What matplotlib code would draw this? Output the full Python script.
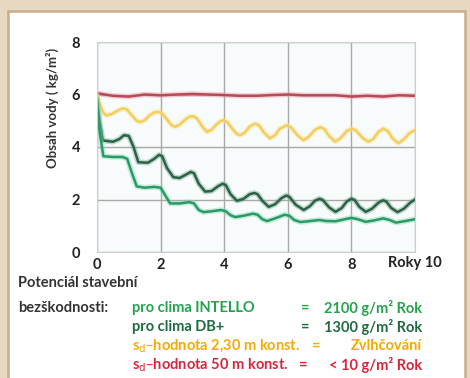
import matplotlib
matplotlib.use("Agg")
import matplotlib.pyplot as plt
from matplotlib.patches import Rectangle

plt.rcParams['font.family'] = ['Lato', 'DejaVu Sans']

# water content over years
red_t = [0, 0.5, 1, 1.5, 2, 2.5, 3, 3.5, 4, 4.5, 5, 5.5, 6, 6.5, 7, 7.5, 8, 8.5, 9, 9.5, 10]
red_y = [6.05, 5.95, 5.92, 6.0, 5.97, 6.0, 6.02, 6.0, 5.98, 5.95, 5.95, 5.98, 6.0, 5.97,
         5.97, 5.97, 5.92, 5.95, 5.92, 5.97, 5.95]

yel_t = [0.0, 0.1, 0.2, 0.3, 0.45, 0.6, 0.75, 0.84, 0.95, 1.1, 1.25, 1.36, 1.5, 1.65, 1.8,
         1.94, 2.05, 2.2, 2.35, 2.46, 2.6, 2.75, 2.9, 3.04, 3.15, 3.3, 3.45, 3.6, 3.75, 3.88,
         3.98, 4.1, 4.25, 4.4, 4.5, 4.65, 4.8, 4.97, 5.1, 5.25, 5.44, 5.6, 5.75, 5.97, 6.1,
         6.3, 6.49, 6.65, 6.85, 7.02, 7.15, 7.3, 7.49, 7.65, 7.85, 8.01, 8.15, 8.35, 8.53,
         8.7, 8.85, 9.0, 9.15, 9.3, 9.48, 9.65, 9.85, 10.0]
yel_y = [5.95, 5.6, 5.3, 5.2, 5.25, 5.35, 5.45, 5.47, 5.42, 5.2, 5.0, 4.95, 5.02, 5.2, 5.32,
         5.34, 5.27, 5.05, 4.82, 4.77, 4.85, 5.02, 5.15, 5.17, 5.08, 4.8, 4.58, 4.65, 4.85, 4.98,
         5.02, 4.95, 4.7, 4.5, 4.45, 4.55, 4.78, 4.89, 4.82, 4.55, 4.33, 4.45, 4.7, 4.83, 4.75,
         4.45, 4.26, 4.38, 4.65, 4.76, 4.68, 4.42, 4.2, 4.33, 4.6, 4.7, 4.62, 4.35, 4.2,
         4.32, 4.58, 4.7, 4.6, 4.32, 4.14, 4.3, 4.55, 4.63]

db_t = [0, 0.08, 0.18, 0.5, 0.7, 0.85, 1.0, 1.15, 1.3, 1.6, 1.8, 1.95, 2.05, 2.2, 2.4, 2.6,
        2.8, 2.95, 3.05, 3.2, 3.4, 3.6, 3.8, 3.95, 4.05, 4.2, 4.4, 4.6, 4.8, 4.95, 5.05, 5.2,
        5.4, 5.6, 5.8, 5.95, 6.05, 6.25, 6.5, 6.7, 6.85, 7.0, 7.1, 7.3, 7.5, 7.7, 7.85, 8.0,
        8.1, 8.25, 8.45, 8.65, 8.85, 9.0, 9.1, 9.25, 9.45, 9.65, 9.85, 10.0]
db_y = [5.8, 5.0, 4.25, 4.2, 4.3, 4.45, 4.42, 4.0, 3.42, 3.4, 3.55, 3.7, 3.65, 3.2, 2.85, 2.82,
        2.95, 3.05, 3.0, 2.6, 2.3, 2.32, 2.5, 2.6, 2.55, 2.2, 1.95, 2.02, 2.2, 2.25, 2.2, 1.95,
        1.72, 1.82, 2.05, 2.15, 2.1, 1.8, 1.6, 1.75, 1.95, 2.03, 1.98, 1.7, 1.53, 1.68, 1.92, 2.03,
        1.98, 1.72, 1.53, 1.65, 1.88, 1.97, 1.92, 1.68, 1.52, 1.65, 1.88, 2.0]

int_t = [0, 0.08, 0.2, 0.5, 0.8, 0.95, 1.1, 1.25, 1.5, 1.8, 2.0, 2.15, 2.3, 2.6, 2.9, 3.05,
         3.2, 3.35, 3.6, 3.9, 4.05, 4.2, 4.35, 4.6, 4.9, 5.05, 5.2, 5.35, 5.6, 5.9, 6.05, 6.2,
         6.4, 6.7, 7.0, 7.2, 7.5, 7.8, 8.0, 8.2, 8.45, 8.7, 9.0, 9.2, 9.4, 9.7, 10.0]
int_y = [5.8, 4.6, 3.65, 3.62, 3.62, 3.55, 3.0, 2.5, 2.45, 2.48, 2.45, 2.15, 1.85, 1.85, 1.9,
         1.85, 1.6, 1.52, 1.55, 1.6, 1.55, 1.4, 1.33, 1.38, 1.46, 1.42, 1.25, 1.18, 1.28, 1.42,
         1.38, 1.22, 1.14, 1.18, 1.22, 1.18, 1.17, 1.25, 1.3, 1.25, 1.15, 1.2, 1.28, 1.22, 1.12,
         1.18, 1.25]

yticks = [0, 2, 4, 6, 8]
xticks = [0, 2, 4, 6, 8, 10]

legend_names = ["pro clima INTELLO", "pro clima DB+",
                "s$_{\\rm d}$–hodnota 2,30 m konst.", "s$_{\\rm d}$–hodnota 50 m konst."]
legend_values = ["2100 g/m² Rok", "1300 g/m² Rok", "Zvlhčování", "< 10 g/m² Rok"]
legend_colors = ["#21a44c", "#1f6a3f", "#f5aa00", "#d8253c"]

fig = plt.figure(figsize=(4.7, 3.78), dpi=100)
fig.patch.set_facecolor("#e7d9c1")
# white panel with tan border, kept behind the axes
fig.patches.append(Rectangle((8 / 470, -0.05), 457 / 470, 1.05 - 11 / 378, transform=fig.transFigure,
                             facecolor="white", edgecolor="#c9ad86", linewidth=1.8, zorder=-10))

ax = fig.add_axes([97 / 470, 1 - 252 / 378, 318 / 470, 210 / 378])
ax.set_facecolor("#f8fbfb")


def soft_line(x, y, core, halo, lw):
    # blurred look of the scanned original: wide pale halo under a thin core
    ax.plot(x, y, color=halo, lw=lw + 2.2, alpha=0.45, solid_joinstyle="round")
    ax.plot(x, y, color=core, lw=lw, solid_joinstyle="round")


soft_line(red_t, red_y, "#b84a58", "#f0a0b0", 1.8)
soft_line(yel_t, yel_y, "#f2cf62", "#fbe6a0", 1.9)
soft_line(db_t, db_y, "#2f5f4a", "#6fb28c", 1.8)
soft_line(int_t, int_y, "#279a66", "#8ad8b4", 1.8)

ax.set_xlim(0, 10)
ax.set_ylim(0, 8)
ax.set_xticks(xticks)
ax.set_yticks(yticks)
ax.set_xticklabels(["0", "2", "4", "6", "8", ""])
ax.tick_params(length=0, labelsize=10.5, colors="#222222", pad=4)
ax.tick_params(axis="y", pad=12)
for lab in ax.get_xticklabels() + ax.get_yticklabels():
    lab.set_fontweight("bold")
ax.grid(color="#a8a8a8", lw=1)
ax.set_axisbelow(True)
for s in ax.spines.values():
    s.set_color("#cfcfcf")
ax.text(1.0, -0.019, "Roky 10", transform=ax.transAxes, ha="center", va="top",
        fontsize=10.5, fontweight="bold", color="#222222")

fig.text(52 / 470, 1 - 108 / 378, "Obsah vody ( kg/m²)", rotation=90, ha="center", va="center",
         fontsize=9.5, fontweight="bold", color="#333333")

# legend text block under the chart
fig.text(18 / 470, 1 - 283 / 378, "Potenciál stavební", fontsize=10.5, fontweight="bold",
         color="#333333", va="center")
fig.text(18 / 470, 1 - 308 / 378, "bezškodnosti:", fontsize=10.5, fontweight="bold",
         color="#333333", va="center")
row_y = [308, 327, 346, 365]
eq_x = [305, 305, 316, 303]
for name, val, col, ry, ex in zip(legend_names, legend_values, legend_colors, row_y, eq_x):
    fig.text(132 / 470, 1 - ry / 378, name, fontsize=10.5, fontweight="bold", color=col, va="center")
    fig.text(ex / 470, 1 - ry / 378, "=", fontsize=10.5, fontweight="bold", color=col, va="center",
             ha="center")
    fig.text(422 / 470, 1 - ry / 378, val, fontsize=10.5, fontweight="bold", color=col, va="center",
             ha="right")

fig.savefig("out.png", dpi=100, facecolor=fig.get_facecolor())
